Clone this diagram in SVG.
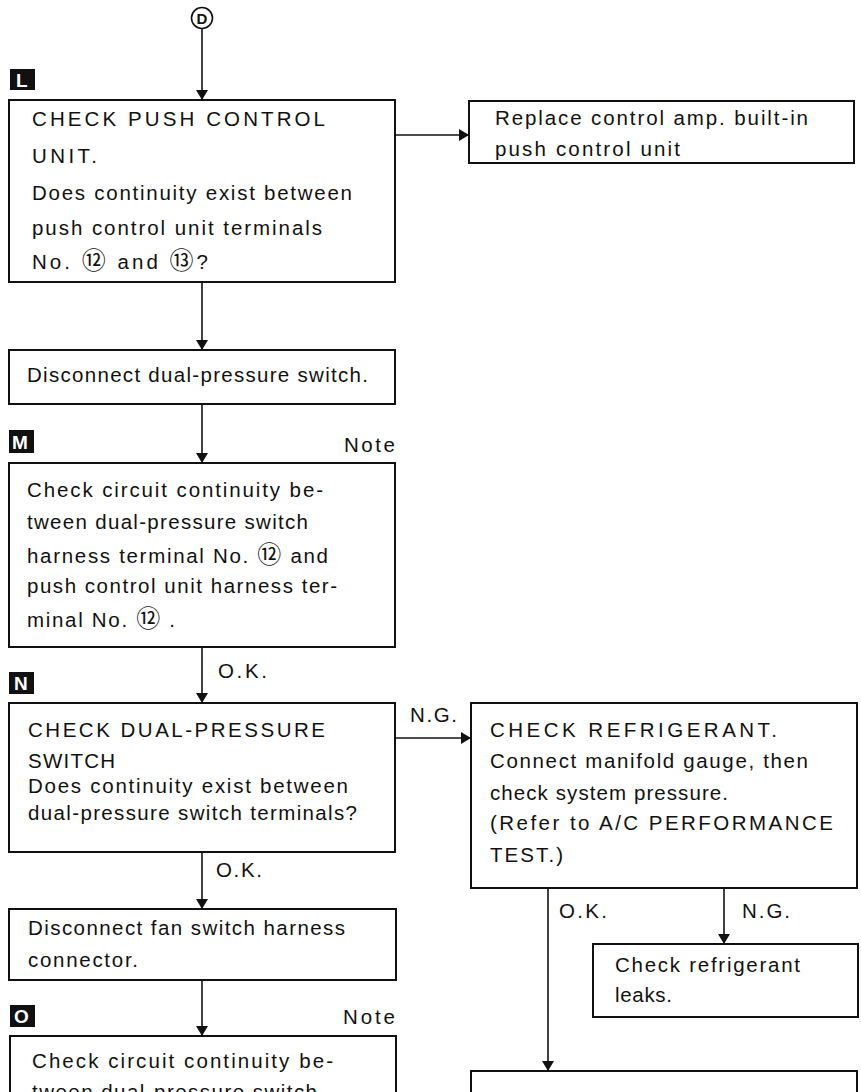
<svg xmlns="http://www.w3.org/2000/svg" width="861" height="1092" viewBox="0 0 861 1092">
<style>
.bg{fill:#fff}
.box{fill:#fff;stroke:#111;stroke-width:2}
.t{font-family:"Liberation Sans",Arial,sans-serif;font-size:20.5px;fill:#111}
.cj{font-family:"Noto Sans CJK JP","DejaVu Sans",sans-serif;font-size:24px}
.ln{stroke:#111;stroke-width:1.6;fill:none}
.mk{fill:#111}
.mt{font-family:"Liberation Sans",Arial,sans-serif;font-size:19px;font-weight:bold;fill:#fff}
</style>
<defs>
<marker id="ah" viewBox="0 0 10 12" refX="10" refY="6" markerWidth="10" markerHeight="12" markerUnits="userSpaceOnUse" orient="auto">
<path d="M0,0 L10,6 L0,12 z" fill="#111"/>
</marker>
</defs>
<rect class="bg" x="0" y="0" width="861" height="1092"/>

<g id="start-D">
<circle cx="202" cy="18" r="10.5" fill="#fff" stroke="#111" stroke-width="1.6"/>
<text x="202" y="24" text-anchor="middle" font-family="Liberation Sans, Arial, sans-serif" font-size="15" font-weight="bold" fill="#111">D</text>
</g>

<g id="step-L">
<rect class="mk" x="10" y="69" width="25" height="21"/>
<text class="mt" x="16" y="87">L</text>
</g>
<g id="step-M">
<rect class="mk" x="9" y="430" width="25" height="23"/>
<text class="mt" x="12" y="449">M</text>
</g>
<g id="step-N">
<rect class="mk" x="9" y="672" width="25" height="22"/>
<text class="mt" x="14" y="690">N</text>
</g>
<g id="step-O">
<rect class="mk" x="10" y="1005" width="25" height="22"/>
<text class="mt" x="14" y="1023">O</text>
</g>

<g id="connectors">
<line class="ln" x1="202" y1="29" x2="202" y2="100" marker-end="url(#ah)"/>
<line class="ln" x1="395" y1="135" x2="469" y2="135" marker-end="url(#ah)"/>
<line class="ln" x1="202" y1="282" x2="202" y2="350" marker-end="url(#ah)"/>
<line class="ln" x1="202" y1="404" x2="202" y2="463" marker-end="url(#ah)"/>
<line class="ln" x1="202" y1="647" x2="202" y2="703" marker-end="url(#ah)"/>
<line class="ln" x1="395" y1="738" x2="471" y2="738" marker-end="url(#ah)"/>
<line class="ln" x1="202" y1="852" x2="202" y2="909" marker-end="url(#ah)"/>
<line class="ln" x1="202" y1="980" x2="202" y2="1036" marker-end="url(#ah)"/>
<line class="ln" x1="548" y1="888" x2="548" y2="1071" marker-end="url(#ah)"/>
<line class="ln" x1="724" y1="888" x2="724" y2="944" marker-end="url(#ah)"/>
<text class="t" x="344" y="452" textLength="51" lengthAdjust="spacing">Note</text>
<text class="t" x="218" y="678" textLength="49" lengthAdjust="spacing">O.K.</text>
<text class="t" x="410" y="722" textLength="47" lengthAdjust="spacing">N.G.</text>
<text class="t" x="216" y="877" textLength="46" lengthAdjust="spacing">O.K.</text>
<text class="t" x="343" y="1024" textLength="52" lengthAdjust="spacing">Note</text>
<text class="t" x="559" y="918" textLength="48" lengthAdjust="spacing">O.K.</text>
<text class="t" x="742" y="918" textLength="48" lengthAdjust="spacing">N.G.</text>
</g>

<g id="check-push-control">
<rect class="box" x="9" y="100" width="386" height="182"/>
<text class="t" x="32" y="126" textLength="293" lengthAdjust="spacing">CHECK PUSH CONTROL</text>
<text class="t" x="32" y="163" textLength="65" lengthAdjust="spacing">UNIT.</text>
<text class="t" x="32" y="200" textLength="320" lengthAdjust="spacing">Does continuity exist between</text>
<text class="t" x="32" y="235" textLength="290" lengthAdjust="spacing">push control unit terminals</text>
<text class="t" x="32" y="269" textLength="176" lengthAdjust="spacing">No. <tspan class="cj">⑫</tspan> and <tspan class="cj">⑬</tspan>?</text>
</g>

<g id="replace-amp">
<rect class="box" x="469" y="101" width="385" height="62"/>
<text class="t" x="495" y="125" textLength="313" lengthAdjust="spacing">Replace control amp. built-in</text>
<text class="t" x="495" y="156" textLength="185" lengthAdjust="spacing">push control unit</text>
</g>

<g id="disconnect-dps">
<rect class="box" x="9" y="350" width="386" height="54"/>
<text class="t" x="27" y="382" textLength="341" lengthAdjust="spacing">Disconnect dual-pressure switch.</text>
</g>

<g id="check-circuit-M">
<rect class="box" x="9" y="463" width="386" height="184"/>
<text class="t" x="27" y="497" textLength="296" lengthAdjust="spacing">Check circuit continuity be-</text>
<text class="t" x="27" y="529" textLength="281" lengthAdjust="spacing">tween dual-pressure switch</text>
<text class="t" x="27" y="563" textLength="301" lengthAdjust="spacing">harness terminal No. <tspan class="cj">⑫</tspan> and</text>
<text class="t" x="27" y="593" textLength="310" lengthAdjust="spacing">push control unit harness ter-</text>
<text class="t" x="27" y="627" textLength="148" lengthAdjust="spacing">minal No. <tspan class="cj">⑫</tspan> .</text>
</g>

<g id="check-dps-N">
<rect class="box" x="9" y="703" width="386" height="149"/>
<text class="t" x="28" y="737" textLength="297" lengthAdjust="spacing">CHECK DUAL-PRESSURE</text>
<text class="t" x="28" y="768" textLength="87" lengthAdjust="spacing">SWITCH</text>
<text class="t" x="28" y="793" textLength="320" lengthAdjust="spacing">Does continuity exist between</text>
<text class="t" x="28" y="820" textLength="329" lengthAdjust="spacing">dual-pressure switch terminals?</text>
</g>

<g id="check-refrigerant">
<rect class="box" x="471" y="703" width="386" height="185"/>
<text class="t" x="490" y="737" textLength="287" lengthAdjust="spacing">CHECK REFRIGERANT.</text>
<text class="t" x="490" y="768" textLength="318" lengthAdjust="spacing">Connect manifold gauge, then</text>
<text class="t" x="490" y="800" textLength="238" lengthAdjust="spacing">check system pressure.</text>
<text class="t" x="490" y="830" textLength="343" lengthAdjust="spacing">(Refer to A/C PERFORMANCE</text>
<text class="t" x="490" y="862" textLength="73" lengthAdjust="spacing">TEST.)</text>
</g>

<g id="disconnect-fan">
<rect class="box" x="9" y="909" width="387" height="71"/>
<text class="t" x="28" y="935" textLength="317" lengthAdjust="spacing">Disconnect fan switch harness</text>
<text class="t" x="28" y="967" textLength="110" lengthAdjust="spacing">connector.</text>
</g>

<g id="check-leaks">
<rect class="box" x="593" y="944" width="265" height="73"/>
<text class="t" x="615" y="972" textLength="185" lengthAdjust="spacing">Check refrigerant</text>
<text class="t" x="615" y="1002" textLength="57" lengthAdjust="spacing">leaks.</text>
</g>

<g id="check-circuit-O">
<rect class="box" x="10" y="1036" width="386" height="70"/>
<text class="t" x="32" y="1068" textLength="301" lengthAdjust="spacing">Check circuit continuity be-</text>
<text class="t" x="32" y="1099" textLength="285" lengthAdjust="spacing">tween dual-pressure switch</text>
</g>

<g id="next-right">
<rect class="box" x="471" y="1071" width="386" height="40"/>
</g>
</svg>
